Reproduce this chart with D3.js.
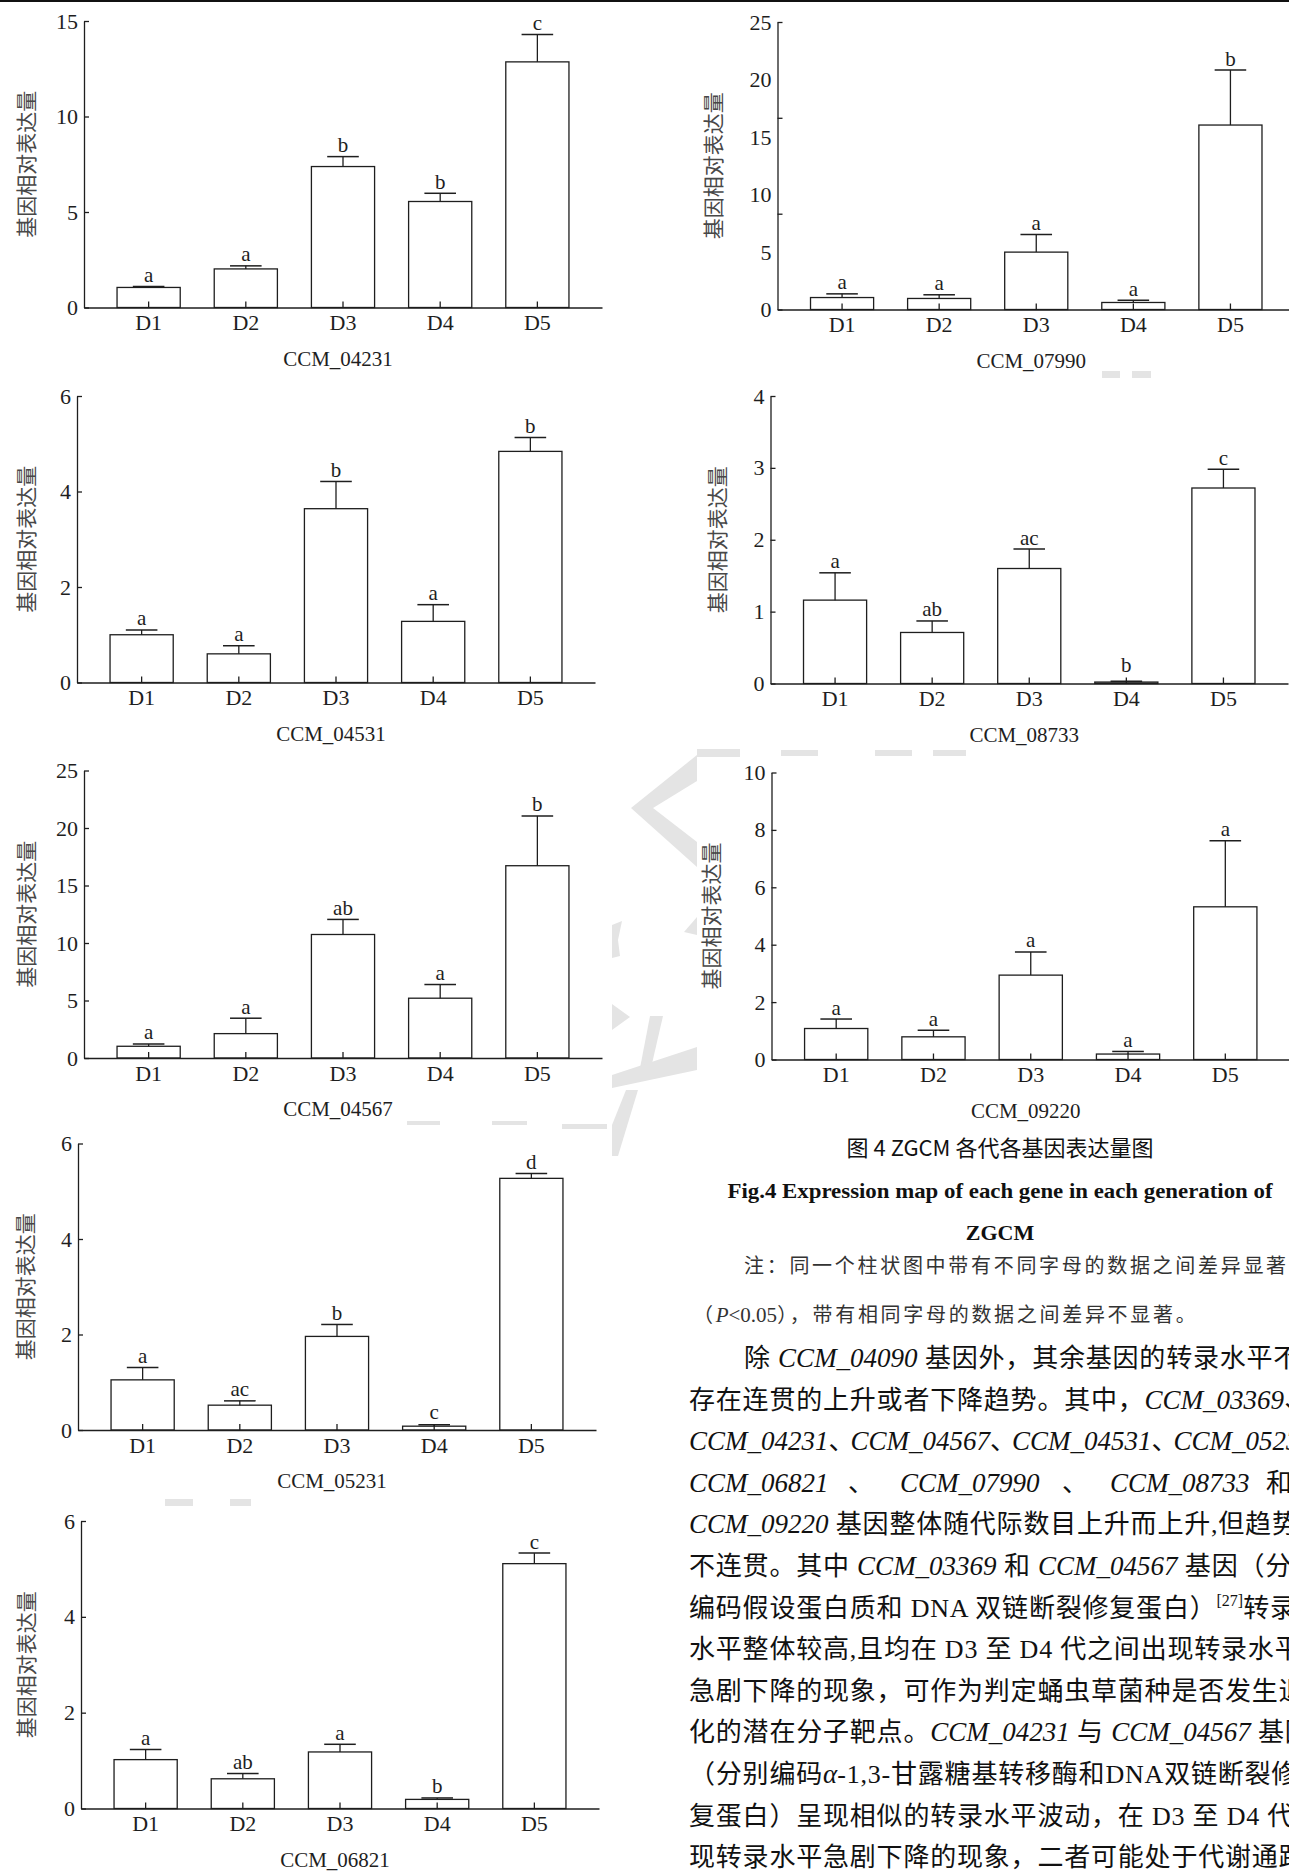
<!DOCTYPE html>
<html>
<head>
<meta charset="utf-8">
<script src="https://cdn.jsdelivr.net/npm/d3@7"></script>
<style>
	body { margin: 0; background: #fff; overflow: hidden; }
	svg { display: block; }
</style>
</head>
<body>
<script>

let width = 1289;
let height = 1871;

// x categories (generations)
let generations = ["D1", "D2", "D3", "D4", "D5"];

// one panel per gene, read left-right, top-bottom
let genes = ["CCM_04231", "CCM_07990", "CCM_04531", "CCM_08733", "CCM_04567", "CCM_09220", "CCM_05231", "CCM_06821"];

// relative expression (bar height)
let means = [
	[1.05, 2.02, 7.38, 5.55, 12.86],
	[1.04, 0.96, 4.99, 0.61, 16.04],
	[1.00, 0.60, 3.64, 1.28, 4.84],
	[1.16, 0.71, 1.60, 0.02, 2.72],
	[1.02, 2.12, 10.74, 5.20, 16.72],
	[1.08, 0.79, 2.94, 0.19, 5.32],
	[1.05, 0.52, 1.96, 0.08, 5.27],
	[1.02, 0.62, 1.18, 0.19, 5.11]
];

// upper error (SE)
let errors = [
	[0.05, 0.16, 0.52, 0.43, 1.43],
	[0.32, 0.32, 1.54, 0.20, 4.78],
	[0.10, 0.17, 0.57, 0.35, 0.29],
	[0.38, 0.16, 0.27, 0.01, 0.26],
	[0.20, 1.34, 1.31, 1.19, 4.33],
	[0.33, 0.23, 0.81, 0.09, 2.30],
	[0.26, 0.09, 0.25, 0.03, 0.10],
	[0.21, 0.11, 0.16, 0.03, 0.22]
];

// significance letters
let letters = [
	["a", "a", "b", "b", "c"],
	["a", "a", "a", "a", "b"],
	["a", "a", "b", "a", "b"],
	["a", "ab", "ac", "b", "c"],
	["a", "a", "ab", "a", "b"],
	["a", "a", "a", "a", "a"],
	["a", "ac", "b", "c", "d"],
	["a", "ab", "a", "b", "c"]
];

let yMax = [15, 25, 6, 4, 25, 10, 6, 6];

let yTickLabels = [
	[0, 5, 10, 15],
	[0, 5, 10, 15, 20, 25],
	[0, 2, 4, 6],
	[0, 1, 2, 3, 4],
	[0, 5, 10, 15, 20, 25],
	[0, 2, 4, 6, 8, 10],
	[0, 2, 4, 6],
	[0, 2, 4, 6]
];

// tick marks (CCM_07990 has marks that don't line up with its labels)
let yTickMarks = [
	[0, 5, 10, 15],
	[0, 8.33, 16.67, 25],
	[0, 2, 4, 6],
	[0, 1, 2, 3, 4],
	[0, 5, 10, 15, 20, 25],
	[0, 2, 4, 6, 8, 10],
	[0, 2, 4, 6],
	[0, 2, 4, 6]
];

let yTitle = "基因相对表达量";

let captionCn = "图 4 ZGCM 各代各基因表达量图";
let captionEn = ["Fig.4 Expression map of each gene in each generation of", "ZGCM"];

// note lines: [text, kind] kind: "" cjk, "i" italic latin, "r" roman latin
let noteLines = [
	[["注：同一个柱状图中带有不同字母的数据之间差异显著", ""]],
	[["（", ""], ["P", "i"], ["<0.05", "r"], ["），带有相同字母的数据之间差异不显著。", ""]]
];

// "n" = narrow enumeration comma
let bodyLines = [
	[["除 ", ""], ["CCM_04090", "i"], [" 基因外，其余基因的转录水平不", ""]],
	[["存在连贯的上升或者下降趋势。其中，", ""], ["CCM_03369", "i"], ["、", ""]],
	[["CCM_04231", "i"], ["、", "n"], ["CCM_04567", "i"], ["、", "n"], ["CCM_04531", "i"], ["、", "n"], ["CCM_05231", "i"], ["、", "n"]],
	[["CCM_06821", "i"], ["、", ""], ["CCM_07990", "i"], ["、", ""], ["CCM_08733", "i"], ["和", ""]],
	[["CCM_09220", "i"], [" 基因整体随代际数目上升而上升,但趋势", ""]],
	[["不连贯。其中 ", ""], ["CCM_03369", "i"], [" 和 ", ""], ["CCM_04567", "i"], [" 基因（分别", ""]],
	[["编码假设蛋白质和 DNA 双链断裂修复蛋白）", ""], ["[27]", "sup"], ["转录", ""]],
	[["水平整体较高,且均在 D3 至 D4 代之间出现转录水平", ""]],
	[["急剧下降的现象，可作为判定蛹虫草菌种是否发生退", ""]],
	[["化的潜在分子靶点。", ""], ["CCM_04231", "i"], [" 与 ", ""], ["CCM_04567", "i"], [" 基因", ""]],
	[["（分别编码", ""], ["α", "i"], ["-1,3-甘露糖基转移酶和DNA双链断裂修", ""]],
	[["复蛋白）呈现相似的转录水平波动，在 D3 至 D4 代出", ""]],
	[["现转录水平急剧下降的现象，二者可能处于代谢通路", ""]]
];

// ---- layout ----

// panel frames in page pixels
let frames = [
	{left: 84, right: 602, top: 21, bottom: 307.5, labelX: 25},
	{left: 777.5, right: 1295, top: 22, bottom: 309.5, labelX: 712},
	{left: 77, right: 595, top: 396, bottom: 682.5, labelX: 25},
	{left: 770.5, right: 1288, top: 396, bottom: 683.5, labelX: 716},
	{left: 84, right: 602, top: 770.5, bottom: 1058, labelX: 25},
	{left: 771.5, right: 1290, top: 772.5, bottom: 1059.5, labelX: 710},
	{left: 78, right: 596, top: 1143.5, bottom: 1430, labelX: 24},
	{left: 81, right: 599, top: 1521, bottom: 1808.5, labelX: 25}
];

// the widely spaced justified line gets explicit segment positions
let bodyJustify = {
	3: [689, 848, 900, 1062, 1110, 1266]
};

let ink = "#1e1e1e";
let serif = "'Liberation Serif', 'Times New Roman', serif";
let cjk = "'Noto Sans CJK SC', sans-serif";
let mixed = "'Liberation Serif', 'Noto Sans CJK SC', serif";

let svg = d3.select("body")
	.append("svg")
		.attr("width", width)
		.attr("height", height);

svg.append("rect")
	.attr("width", width)
	.attr("height", height)
	.attr("fill", "#fff");

// faint watermark behind the panels
let wm = [
	[[697, 755], [631, 808], [697, 867], [697, 842], [653, 808], [697, 781]],
	[[697, 749], [740, 749], [740, 757], [697, 757]],
	[[612, 925], [622, 921], [618, 940], [620, 956], [612, 958]],
	[[697, 917], [697, 935], [684, 932]],
	[[612, 1004], [630, 1017], [612, 1030]],
	[[650, 1016], [663, 1016], [651, 1068], [640, 1068]],
	[[612, 1075], [697, 1047], [697, 1070], [612, 1088]],
	[[626, 1090], [638, 1090], [618, 1156], [612, 1156], [612, 1125]],
	[[562, 1124], [607, 1124], [607, 1129], [562, 1129]],
	[[407, 1121], [440, 1121], [440, 1125], [407, 1125]],
	[[492, 1121], [527, 1121], [527, 1125], [492, 1125]],
	[[698, 749], [727, 749], [727, 756], [698, 756]],
	[[781, 750], [818, 750], [818, 756], [781, 756]],
	[[875, 750], [912, 750], [912, 756], [875, 756]],
	[[933, 750], [966, 750], [966, 756], [933, 756]],
	[[1102, 371], [1120, 371], [1120, 378], [1102, 378]],
	[[1132, 371], [1151, 371], [1151, 378], [1132, 378]],
	[[165, 1499], [193, 1499], [193, 1506], [165, 1506]],
	[[230, 1499], [251, 1499], [251, 1506], [230, 1506]]
];
svg.append("g")
	.selectAll("polygon")
	.data(wm)
	.enter().append("polygon")
		.attr("points", d => d.map(p => p.join(",")).join(" "))
		.attr("fill", "#e4e4e4");

// black rule at the very top
svg.append("rect")
	.attr("width", width)
	.attr("height", 2)
	.attr("fill", "#111");

// ---- panels ----
genes.forEach((gene, i) => {
	let f = frames[i];

	let xScale = d3.scaleBand()
		.domain(generations)
		.range([f.left, f.right])
		.paddingInner(0.35)
		.paddingOuter(0.34);

	let yScale = d3.scaleLinear()
		.domain([0, yMax[i]])
		.range([f.bottom, f.top]);

	let rows = generations.map((gen, j) => ({gen: gen, mean: means[i][j], err: errors[i][j], letter: letters[i][j]}));
	let cx = d => xScale(d.gen) + xScale.bandwidth() / 2;
	let capW = xScale.bandwidth() * 0.5;

	let panel = svg.append("g").attr("class", "panel");

	// bars
	panel.selectAll("rect.bar")
		.data(rows)
		.enter().append("rect")
			.attr("class", "bar")
			.attr("x", d => xScale(d.gen))
			.attr("y", d => yScale(d.mean))
			.attr("width", xScale.bandwidth())
			.attr("height", d => yScale(0) - yScale(d.mean))
			.attr("fill", "#fff")
			.attr("stroke", ink)
			.attr("stroke-width", 1.3);

	// error bars
	panel.selectAll("line.stem")
		.data(rows)
		.enter().append("line")
			.attr("class", "stem")
			.attr("x1", cx)
			.attr("x2", cx)
			.attr("y1", d => yScale(d.mean))
			.attr("y2", d => yScale(d.mean + d.err))
			.attr("stroke", ink)
			.attr("stroke-width", 1.3);

	panel.selectAll("line.cap")
		.data(rows)
		.enter().append("line")
			.attr("class", "cap")
			.attr("x1", d => cx(d) - capW / 2)
			.attr("x2", d => cx(d) + capW / 2)
			.attr("y1", d => yScale(d.mean + d.err))
			.attr("y2", d => yScale(d.mean + d.err))
			.attr("stroke", ink)
			.attr("stroke-width", 1.5);

	// letters
	panel.selectAll("text.sig")
		.data(rows)
		.enter().append("text")
			.attr("class", "sig")
			.attr("x", cx)
			.attr("y", d => Math.min(yScale(d.mean + d.err), f.bottom - 7) - 4.5)
			.attr("text-anchor", "middle")
			.attr("font-family", serif)
			.attr("font-size", 21)
			.attr("fill", ink)
			.text(d => d.letter);

	// x axis
	panel.append("g")
		.attr("transform", "translate(0," + f.bottom + ")")
		.call(d3.axisBottom(xScale).tickSizeInner(-6).tickSizeOuter(0).tickPadding(7));

	// y axis labels
	panel.append("g")
		.attr("transform", "translate(" + f.left + ",0)")
		.call(d3.axisLeft(yScale).tickValues(yTickLabels[i]).tickSize(0).tickPadding(6).tickFormat(d3.format("d")));

	// y axis tick marks (inward)
	panel.append("g")
		.attr("transform", "translate(" + f.left + ",0)")
		.call(d3.axisLeft(yScale).tickValues(yTickMarks[i]).tickFormat("").tickSizeInner(-5).tickSizeOuter(0))
		.call(g => g.select(".domain").remove());

	panel.selectAll(".tick line, .domain")
		.attr("stroke", ink)
		.attr("stroke-width", 1.3);
	panel.selectAll(".tick text")
		.attr("fill", ink)
		.attr("font-family", serif)
		.attr("font-size", 22);

	// y title
	panel.append("text")
		.attr("transform", "translate(" + f.labelX + "," + ((f.top + f.bottom) / 2) + ") rotate(-90)")
		.attr("text-anchor", "middle")
		.attr("dominant-baseline", "central")
		.attr("font-family", cjk)
		.attr("font-size", 21)
		.attr("fill", "#484848")
		.text(yTitle);

	// gene name
	panel.append("text")
		.attr("x", (f.left + f.right) / 2 - 5)
		.attr("y", f.bottom + 58)
		.attr("text-anchor", "middle")
		.attr("font-family", serif)
		.attr("font-size", 21)
		.attr("fill", ink)
		.text(gene);
});

// ---- caption ----
svg.append("text")
	.attr("x", 1000)
	.attr("y", 1156)
	.attr("text-anchor", "middle")
	.attr("font-family", cjk)
	.attr("font-size", 22)
	.attr("fill", "#111")
	.text(captionCn);

svg.append("text")
	.attr("x", 727.5)
	.attr("y", 1198)
	.attr("font-family", serif)
	.attr("font-weight", "bold")
	.attr("font-size", 22)
	.attr("textLength", 545)
	.attr("lengthAdjust", "spacingAndGlyphs")
	.attr("fill", "#111")
	.text(captionEn[0]);

svg.append("text")
	.attr("x", 1000)
	.attr("y", 1240)
	.attr("text-anchor", "middle")
	.attr("font-family", serif)
	.attr("font-weight", "bold")
	.attr("font-size", 22)
	.attr("fill", "#111")
	.text(captionEn[1]);

// note
noteLines.forEach((segs, li) => {
	let t = svg.append("text")
		.attr("x", li === 0 ? 744 : 693)
		.attr("y", 1273 + li * 49)
		.attr("font-family", mixed)
		.attr("font-size", 20)
		.attr("fill", "#333");
	segs.forEach(s => {
		let ts = t.append("tspan").text(s[0]);
		if (s[1] === "i") ts.attr("font-style", "italic").style("letter-spacing", "0px").attr("font-size", 21);
		else if (s[1] === "r") ts.style("letter-spacing", "0px").attr("font-size", 21);
		else ts.style("letter-spacing", "2.7px");
	});
});

// body paragraph
bodyLines.forEach((segs, li) => {
	let t = svg.append("text")
		.attr("x", li === 0 ? 744 : 689)
		.attr("y", 1367 + li * 41.6)
		.attr("font-family", mixed)
		.attr("font-size", 26)
		.attr("fill", "#111")
		.style("letter-spacing", "0.8px");
	let shift = 0;
	segs.forEach((s, si) => {
		let ts = t.append("tspan").text(s[0]);
		if (s[1] === "i") ts.attr("font-style", "italic").attr("font-size", 27).style("letter-spacing", "0px");
		if (s[1] === "n") ts.style("letter-spacing", "-4px");
		if (s[1] === "sup") {
			ts.attr("font-size", 16).attr("dy", -11).style("letter-spacing", "0px");
			shift = 11;
		} else if (shift) {
			ts.attr("dy", shift);
			shift = 0;
		}
		if (bodyJustify[li]) ts.attr("x", bodyJustify[li][si]);
	});
});

</script>
</body>
</html>
